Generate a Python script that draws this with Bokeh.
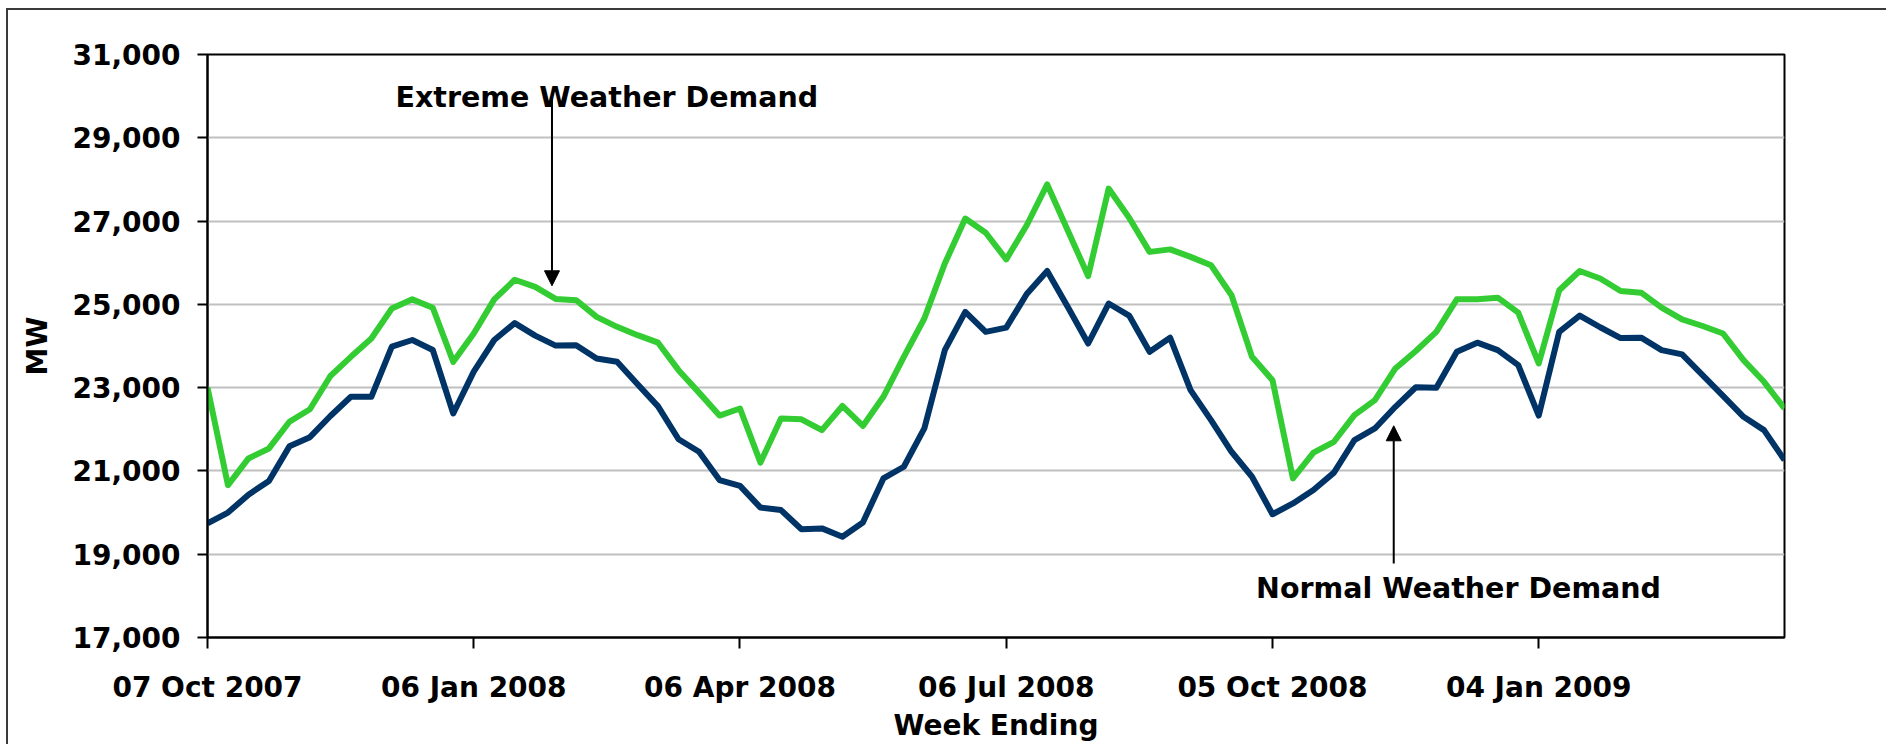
import pandas as pd
from bokeh.plotting import figure
from bokeh.models import (ColumnDataSource, Range1d, FixedTicker, DatetimeTickFormatter,
                          NumeralTickFormatter, Label, Arrow, NormalHead)
from bokeh.embed import file_html
from bokeh.resources import INLINE

# ---------------- data ----------------
week_ending = pd.date_range(start="2007-10-07", periods=78, freq="7D")

extreme_weather_demand = [
    23000, 20660, 21300, 21540, 22180, 22480, 23280, 23740, 24180, 24900,
    25120, 24920, 23620, 24300, 25120, 25590, 25420, 25130, 25100, 24700,
    24460, 24260, 24080, 23420, 22880, 22330, 22500, 21200, 22260, 22240,
    21980, 22560, 22080, 22780, 23740, 24660, 25980, 27060, 26720, 26080,
    26900, 27880, 26780, 25680, 27780, 27080, 26260, 26320, 26140, 25940,
    25220, 23740, 23180, 20820, 21440, 21700, 22340, 22700, 23460, 23880,
    24340, 25120, 25120, 25160, 24800, 23580, 25340, 25800, 25620, 25320,
    25280, 24920, 24640, 24480, 24300, 23660, 23140, 22500,
]

normal_weather_demand = [
    19740, 20000, 20430, 20760, 21590, 21810, 22320, 22780, 22780, 23984,
    24144, 23904, 22380, 23384, 24144, 24550, 24250, 24010, 24020, 23700,
    23620, 23080, 22550, 21760, 21460, 20780, 20640, 20120, 20060, 19600,
    19620, 19420, 19760, 20820, 21100, 22020, 23900, 24820, 24340, 24440,
    25250, 25800, 24940, 24060, 25020, 24730, 23860, 24200, 22940, 22220,
    21460, 20860, 19960, 20220, 20540, 20960, 21740, 22020, 22540, 23010,
    23000, 23860, 24080, 23900, 23540, 22330, 24340, 24730, 24450, 24190,
    24200, 23900, 23800, 23300, 22800, 22300, 21980, 21260,
]

x_tick_dates = ["2007-10-07", "2008-01-06", "2008-04-06", "2008-07-06", "2008-10-05", "2009-01-04"]
y_ticks = [17000, 19000, 21000, 23000, 25000, 27000, 29000, 31000]

GREEN = "#33CC33"
NAVY = "#003366"
FONT = "DejaVu Sans"

def to_ms(ts):
    return pd.Timestamp(ts).value / 1e6

WEEK_MS = 7 * 24 * 3600 * 1000.0
t0 = to_ms(week_ending[0])

def wk(w):
    return t0 + w * WEEK_MS

source = ColumnDataSource(data=dict(
    date=week_ending,
    extreme=extreme_weather_demand,
    normal=normal_weather_demand,
))

p = figure(
    width=1880, height=736,
    x_axis_type="datetime",
    x_range=Range1d(to_ms(week_ending[0]), to_ms(week_ending[-1])),
    y_range=Range1d(17000, 31000),
    output_backend="svg", toolbar_location=None, tools="",
    min_border_left=199, min_border_right=104, min_border_top=44, min_border_bottom=109,
)
p.styles = {"margin-left": "6px", "margin-top": "8px",
            "border-left": "2px solid #3a3a3a", "border-top": "2px solid #3a3a3a"}
p.background_fill_color = "white"
p.border_fill_color = "white"
p.outline_line_color = "black"
p.outline_line_width = 2

p.line("date", "extreme", source=source, line_color=GREEN, line_width=6, line_join="round")
p.line("date", "normal", source=source, line_color=NAVY, line_width=6, line_join="round")

# axes
p.xaxis.ticker = FixedTicker(ticks=[to_ms(d) for d in x_tick_dates])
p.xaxis.formatter = DatetimeTickFormatter(
    milliseconds="%d %b %Y", seconds="%d %b %Y", minsec="%d %b %Y", minutes="%d %b %Y",
    hourmin="%d %b %Y", hours="%d %b %Y", days="%d %b %Y", months="%d %b %Y", years="%d %b %Y")
p.yaxis.ticker = FixedTicker(ticks=y_ticks)
p.yaxis.formatter = NumeralTickFormatter(format="0,0")

for ax in (p.xaxis, p.yaxis):
    ax.axis_line_color = "black"
    ax.axis_line_width = 2
    ax.major_tick_line_color = "black"
    ax.major_tick_line_width = 2
    ax.major_tick_in = 0
    ax.minor_tick_line_color = None
    ax.major_label_text_font = FONT
    ax.major_label_text_font_style = "bold"
    ax.major_label_text_font_size = "28px"
    ax.major_label_text_color = "black"
    ax.axis_label_text_font = FONT
    ax.axis_label_text_font_style = "bold"
    ax.axis_label_text_font_size = "28px"
    ax.axis_label_text_color = "black"

p.xaxis.major_tick_out = 11
p.yaxis.major_tick_out = 10
p.xaxis.major_label_standoff = 22
p.yaxis.major_label_standoff = 17
p.xaxis.axis_label = "Week Ending"
p.yaxis.axis_label = "MW"
p.xaxis.axis_label_standoff = 2
p.yaxis.axis_label_standoff = 15

p.xgrid.grid_line_color = None
p.ygrid.grid_line_color = "#C0C0C0"
p.ygrid.grid_line_width = 2

# annotations
p.add_layout(Label(x=wk(9.18), y=29967, text="Extreme Weather Demand",
                   text_font=FONT, text_font_style="bold", text_font_size="28.5px",
                   text_color="black", text_baseline="alphabetic", text_align="left"))
p.add_layout(Label(x=wk(51.2), y=18177, text="Normal Weather Demand",
                   text_font=FONT, text_font_style="bold", text_font_size="28.5px",
                   text_color="black", text_baseline="alphabetic", text_align="left"))
p.add_layout(Arrow(end=NormalHead(size=15, fill_color="black", line_color="black"),
                   x_start=wk(16.82), y_start=29936, x_end=wk(16.82), y_end=25446,
                   line_color="black", line_width=2))
p.add_layout(Arrow(end=NormalHead(size=15, fill_color="black", line_color="black"),
                   x_start=wk(57.92), y_start=18777, x_end=wk(57.92), y_end=22084,
                   line_color="black", line_width=2))

open("out.html", "w").write(file_html(p, INLINE))
